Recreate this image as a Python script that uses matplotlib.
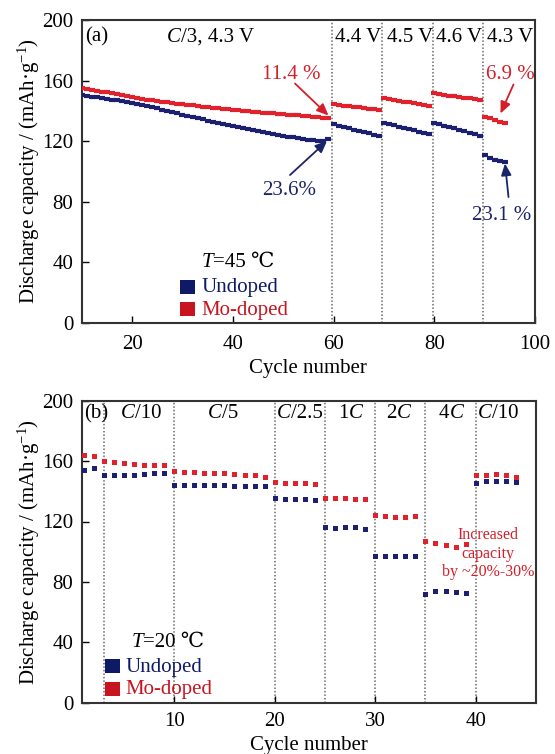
import numpy as np
import matplotlib
matplotlib.use('Agg')
import matplotlib.pyplot as plt
from matplotlib.patches import Rectangle

plt.rcParams['font.family'] = ['Liberation Serif', 'DejaVu Serif', 'Noto Sans CJK SC']
plt.rcParams['mathtext.fontset'] = 'custom'
plt.rcParams['mathtext.rm'] = 'Liberation Serif'
plt.rcParams['mathtext.it'] = 'Liberation Serif:italic'

# ---------------- Panel (a) data ----------------
a_cycles = [np.arange(10, 60), np.arange(60, 70), np.arange(70, 80),
            np.arange(80, 90), np.arange(90, 95)]
a_undoped = [
    [150.5, 150.0, 149.5, 149.0, 148.5, 148.0, 147.5, 147.0, 146.5, 146.0,
     145.3, 144.6, 143.9, 143.2, 142.4, 141.6, 140.8, 140.0, 139.2, 138.4,
     137.6, 136.8, 136.0, 135.2, 134.4, 133.6, 132.8, 132.0, 131.3, 130.6,
     129.9, 129.2, 128.5, 127.9, 127.3, 126.7, 126.1, 125.5, 124.9, 124.3,
     123.7, 123.1, 122.6, 122.1, 121.6, 121.1, 120.6, 120.2, 120.4, 121.2],
    [131.1, 130.2, 129.4, 128.5, 127.7, 126.8, 126.0, 125.1, 124.3, 123.4],
    [132.2, 131.3, 130.5, 129.6, 128.8, 127.9, 127.1, 126.2, 125.4, 124.5],
    [132.2, 131.2, 130.3, 129.3, 128.4, 127.4, 126.5, 125.5, 124.6, 123.6],
    [110.9, 109.0, 107.8, 107.0, 106.0],
]
a_modoped = [
    [155.0, 154.5, 154.0, 153.4, 152.8, 152.2, 151.5, 150.9, 150.2, 149.6,
     149.0, 148.5, 148.0, 147.5, 147.0, 146.5, 146.0, 145.6, 145.2, 144.8,
     144.4, 144.0, 143.6, 143.2, 142.8, 142.4, 142.0, 141.6, 141.3, 141.0,
     140.7, 140.4, 140.1, 139.8, 139.5, 139.2, 138.9, 138.6, 138.3, 138.0,
     137.7, 137.4, 137.2, 137.0, 136.8, 136.5, 136.2, 135.9, 135.6, 135.3],
    [144.3, 143.9, 143.5, 143.1, 142.7, 142.3, 141.9, 141.5, 141.1, 140.6],
    [148.3, 147.8, 147.2, 146.7, 146.1, 145.6, 145.0, 144.5, 143.9, 143.4],
    [151.6, 151.1, 150.6, 150.1, 149.6, 149.2, 148.7, 148.2, 147.7, 147.2],
    [135.8, 135.0, 134.0, 133.0, 132.2],
]
a_dividers = [59.6, 69.7, 79.8, 89.7]
a_xticks = [20, 40, 60, 80, 100]
yticks = [0, 40, 80, 120, 160, 200]

# ---------------- Panel (b) data ----------------
b_cycles = [np.arange(1, 10), np.arange(10, 20), np.arange(20, 25), np.arange(25, 30),
            np.arange(30, 35), np.arange(35, 40), np.arange(40, 45)]
b_undoped = [
    [153.8, 155.3, 150.5, 150.5, 150.9, 151.1, 151.6, 152.0, 152.3],
    [144.5, 144.5, 144.3, 144.3, 144.1, 144.1, 143.8, 143.6, 143.4, 143.2],
    [135.6, 135.2, 134.8, 134.6, 134.4],
    [116.3, 115.6, 116.1, 116.1, 114.8],
    [97.3, 97.0, 97.0, 97.0, 97.2],
    [72.3, 74.0, 74.0, 73.1, 72.7],
    [145.6, 146.7, 146.9, 146.7, 146.0],
]
b_modoped = [
    [164.3, 163.7, 159.9, 159.5, 158.8, 158.2, 157.7, 157.3, 157.1],
    [153.3, 153.0, 152.7, 152.4, 152.1, 151.8, 151.5, 151.0, 150.5, 149.8],
    [146.0, 145.8, 145.5, 145.3, 145.0],
    [135.8, 135.6, 135.5, 135.2, 134.9],
    [124.3, 123.5, 123.3, 123.0, 123.5],
    [107.1, 106.0, 104.7, 103.1, 104.9],
    [150.9, 151.1, 151.3, 151.1, 149.3],
]
b_dividers = [3, 10, 20, 25, 30, 35, 40]
b_xticks = [10, 20, 30, 40]

NAVY = '#1b2170'
RED = '#e0222c'
NAVY_T = '#1a2468'
RED_T = '#d41f2a'
LEG_NAVY = '#0e1a66'
LEG_RED = '#c8141e'
FS = 15

W, H = 555, 754
fig = plt.figure(figsize=(W / 100, H / 100), dpi=100)
boxA = (81.7, 20.0, 535.0, 323.0)   # left, top, right, bottom in pixels
boxB = (81.7, 400.7, 536.0, 702.7)


def add_axes(box):
    l, t, r, b = box
    return fig.add_axes([l / W, 1 - b / H, (r - l) / W, (b - t) / H])


def af(box, px, py):
    l, t, r, b = box
    return ((px - l) / (r - l), (b - py) / (b - t))


def rich(ax, box, px, py, parts, color='black', size=FS):
    x, y = af(box, px, py)
    prev = None
    for s, style in parts:
        if prev is None:
            t = ax.text(x, y, s, transform=ax.transAxes, ha='left', va='baseline',
                        fontstyle=style, color=color, fontsize=size)
        else:
            t = ax.annotate(s, xy=(1, 0), xycoords=prev, ha='left', va='bottom',
                            fontstyle=style, color=color, fontsize=size)
        prev = t


def style_axes(ax, xpad):
    for sp in ax.spines.values():
        sp.set_color('#333333')
        sp.set_linewidth(1.5)
    ax.tick_params(direction='in', length=5, width=1, pad=6, labelsize=FS,
                   top=False, right=False)
    ax.tick_params(axis='x', pad=xpad)
    ax.set_ylim(0, 200)
    ax.set_yticks(yticks)
    ax.set_ylabel('Discharge capacity / (mAh·g$^{-1}$)', fontsize=FS, labelpad=0)
    ax.set_xlabel('Cycle number', fontsize=FS, labelpad=3)


def legend(ax, box, sq_left, sq_tops, txt_left, baselines, temp_text, temp_pos):
    for top, col in zip(sq_tops, [LEG_NAVY, LEG_RED]):
        x0, y1 = af(box, sq_left, top)
        x1, y0 = af(box, sq_left + 15, top + 14)
        ax.add_patch(Rectangle((x0, y0), x1 - x0, y1 - y0, transform=ax.transAxes,
                               color=col, lw=0, clip_on=False))
    for bl, lab, col in zip(baselines, ['Undoped', 'Mo-doped'], [LEG_NAVY, LEG_RED]):
        x, y = af(box, txt_left, bl)
        ax.text(x, y, lab, transform=ax.transAxes, ha='left', va='baseline',
                color=col, fontsize=FS)
    rich(ax, box, temp_pos[0], temp_pos[1], [('T', 'italic'), ('=' + temp_text + ' ℃', 'normal')])


# ================= Panel (a) =================
ax1 = add_axes(boxA)
for xv in a_dividers:
    ax1.axvline(xv, color='#6a6a6a', ls=(0, (1, 1.3)), lw=1.1, zorder=1)
for c, u, m in zip(a_cycles, a_undoped, a_modoped):
    ax1.plot(c, m, ls='-', lw=1.0, color=RED, marker='_', ms=4.5, mew=3.0, zorder=3)
    ax1.plot(c, u, ls='-', lw=1.0, color=NAVY, marker='_', ms=4.5, mew=3.0, zorder=3)
ax1.set_xlim(10, 100)
ax1.set_xticks(a_xticks)
style_axes(ax1, 9)

rich(ax1, boxA, 85, 41.7, [('(a)', 'normal')])
rich(ax1, boxA, 167.3, 41.7, [('C', 'italic'), ('/3, 4.3 V', 'normal')])
for px, lab in zip([335, 386.7, 436, 487.3], ['4.4 V', '4.5 V', '4.6 V', '4.3 V']):
    rich(ax1, boxA, px, 41.7, [(lab, 'normal')])

rich(ax1, boxA, 261.7, 79, [('11.4 %', 'normal')], color=RED_T)
rich(ax1, boxA, 486, 79, [('6.9 %', 'normal')], color=RED_T)
rich(ax1, boxA, 262, 195, [('23.6%', 'normal')], color=NAVY_T)
rich(ax1, boxA, 471.7, 220, [('23.1 %', 'normal')], color=NAVY_T)


def arrow(ax, box, tail, tip, col):
    ax.annotate('', xy=af(box, *tip), xycoords='axes fraction',
                xytext=af(box, *tail), textcoords='axes fraction',
                arrowprops=dict(arrowstyle='-|>,head_length=0.5,head_width=0.22',
                                color=col, lw=1.3,
                                mutation_scale=14, shrinkA=0, shrinkB=0))


arrow(ax1, boxA, (295, 83.5), (328.5, 115.5), RED_T)
arrow(ax1, boxA, (513.5, 84.5), (500.5, 113.5), RED_T)
arrow(ax1, boxA, (290, 175), (327, 141), NAVY_T)
arrow(ax1, boxA, (508.5, 197), (505, 163.5), NAVY_T)

legend(ax1, boxA, 180, [280, 302], 201.7, [291.7, 315], '45', (201.7, 267.3))

# ================= Panel (b) =================
ax2 = add_axes(boxB)
for xv in b_dividers:
    ax2.axvline(xv, color='#6a6a6a', ls=(0, (1, 1.3)), lw=1.1, zorder=1)
for c, u, m in zip(b_cycles, b_undoped, b_modoped):
    ax2.plot(c, m, ls='none', color=RED, marker='s', ms=3.6, mew=0, zorder=3)
    ax2.plot(c, u, ls='none', color=NAVY, marker='s', ms=3.6, mew=0, zorder=3)
ax2.set_xlim(0.8, 46)
ax2.set_xticks(b_xticks)
style_axes(ax2, 7)

bb = 418.5
rich(ax2, boxB, 84, bb, [('(b)', 'normal')])
rich(ax2, boxB, 120.7, bb, [('C', 'italic'), ('/10', 'normal')])
rich(ax2, boxB, 208, bb, [('C', 'italic'), ('/5', 'normal')])
rich(ax2, boxB, 276.7, bb, [('C', 'italic'), ('/2.5', 'normal')])
rich(ax2, boxB, 338, bb, [('1', 'normal'), ('C', 'italic')])
rich(ax2, boxB, 386, bb, [('2', 'normal'), ('C', 'italic')])
rich(ax2, boxB, 439, bb, [('4', 'normal'), ('C', 'italic')])
rich(ax2, boxB, 478, bb, [('C', 'italic'), ('/10', 'normal')])

for txt, bl in zip(['Increased', 'capacity', 'by ~20%-30%'], [539, 557.5, 576]):
    x, y = af(boxB, 488, bl)
    ax2.text(x, y, txt, transform=ax2.transAxes, ha='center', va='baseline',
             color=RED_T, fontsize=11.5)

legend(ax2, boxB, 105, [659.3, 681.7], 125.7, [671.7, 694], '20', (131.7, 647.3))

fig.savefig('out.png', dpi=100)
